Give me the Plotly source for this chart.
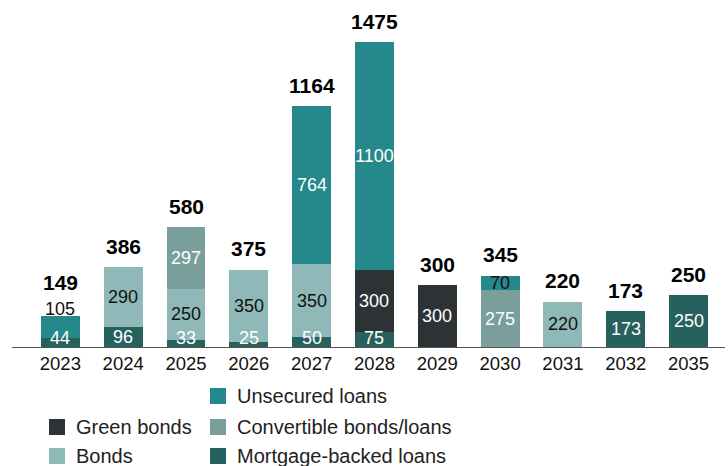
import plotly.graph_objects as go

# Maturity profile by year (amounts per financing type)
years = ["2023", "2024", "2025", "2026", "2027", "2028", "2029", "2030", "2031", "2032", "2035"]
mortgage = [44, 96, 33, 25, 50, 75, 0, 0, 0, 173, 250]
bonds = [0, 290, 250, 350, 350, 0, 0, 0, 220, 0, 0]
convertible = [0, 0, 297, 0, 0, 0, 0, 275, 0, 0, 0]
green = [0, 0, 0, 0, 0, 300, 300, 0, 0, 0, 0]
unsecured = [105, 0, 0, 0, 764, 1100, 0, 70, 0, 0, 0]

series = [
    ("Mortgage-backed loans", mortgage, "#27615e"),
    ("Bonds", bonds, "#8fb9b8"),
    ("Convertible bonds/loans", convertible, "#7a9e9c"),
    ("Green bonds", green, "#2d3234"),
    ("Unsecured loans", unsecured, "#25888a"),
]
light_series = {"Bonds"}

FONT = "Liberation Sans, Arial, Helvetica, sans-serif"
FS = 18

# layout geometry (pixels)
W, H = 728, 466
ML, MR, MT, MB = 12, 3, 10, 119
PW, PH = W - ML - MR, H - MT - MB
YMAX = 1631
px_per_unit = PH / YMAX

fig = go.Figure()
for name, vals, color in series:
    fig.add_trace(go.Bar(
        x=years, y=vals, name=name, marker=dict(color=color, line=dict(width=0)),
        showlegend=False, hoverinfo="x+y+name",
    ))

annotations = []
MIN_CENTER = 46          # lowest label centre (units) for thin bottom segments
for i, yr in enumerate(years):
    base = 0
    last_center = None
    segs = [(n, v[i]) for n, v, _ in series if v[i] > 0]
    total = sum(v for _, v in segs)
    outside = False
    for k, (name, v) in enumerate(segs):
        center = max(base + v / 2, MIN_CENTER)
        is_top = k == len(segs) - 1
        color = "#111111" if name in light_series else "white"
        if is_top and last_center is not None and (center - last_center) * px_per_unit < 16:
            # label would collide with the one below: place it above the bar
            annotations.append(dict(x=i, y=total, text=str(v), showarrow=False,
                                    yanchor="middle", yshift=7,
                                    font=dict(family=FONT, size=FS, color="#111111")))
            outside = True
        else:
            if is_top and k > 0 and v * px_per_unit < 18:
                color = "#111111"
            annotations.append(dict(x=i, y=center, text=str(v), showarrow=False,
                                    yanchor="middle",
                                    font=dict(family=FONT, size=FS, color=color)))
        last_center = center
        base += v
    annotations.append(dict(x=i, y=total, text="<b>%d</b>" % total, showarrow=False,
                            yanchor="middle", yshift=34 if outside else 21,
                            font=dict(family=FONT, size=21, color="#000000")))

# legend drawn in paper coordinates
def px_x(p):
    return (p - ML) / PW

def px_y(p):
    return (H - MB - p) / PH

legend_items = [
    ("Unsecured loans", "#25888a", 210, 396),
    ("Green bonds", "#2d3234", 49, 427),
    ("Convertible bonds/loans", "#7a9e9c", 210, 427),
    ("Bonds", "#8fb9b8", 49, 456),
    ("Mortgage-backed loans", "#27615e", 210, 456),
]
shapes = []
for label, color, x0, yc in legend_items:
    shapes.append(dict(type="rect", xref="paper", yref="paper",
                       x0=px_x(x0), x1=px_x(x0 + 16), y0=px_y(yc + 8), y1=px_y(yc - 8),
                       fillcolor=color, line=dict(width=0)))
    annotations.append(dict(xref="paper", yref="paper", x=px_x(x0 + 25), y=px_y(yc),
                            text=label, showarrow=False, xanchor="left", yanchor="middle",
                            font=dict(family=FONT, size=20, color="#222222")))

fig.update_layout(
    width=W, height=H,
    margin=dict(l=ML, r=MR, t=MT, b=MB),
    barmode="stack", bargap=0.38,
    plot_bgcolor="white", paper_bgcolor="white",
    font=dict(family=FONT, size=FS, color="#111111"),
    xaxis=dict(type="category", range=[-0.77, 10.58], showgrid=False, zeroline=False,
               showline=True, linecolor="#555555", linewidth=1.3, ticks="",
               tickfont=dict(family=FONT, size=18.5, color="#111111")),
    yaxis=dict(range=[0, YMAX], visible=False),
    annotations=annotations, shapes=shapes,
)

fig.write_html("out.html")
